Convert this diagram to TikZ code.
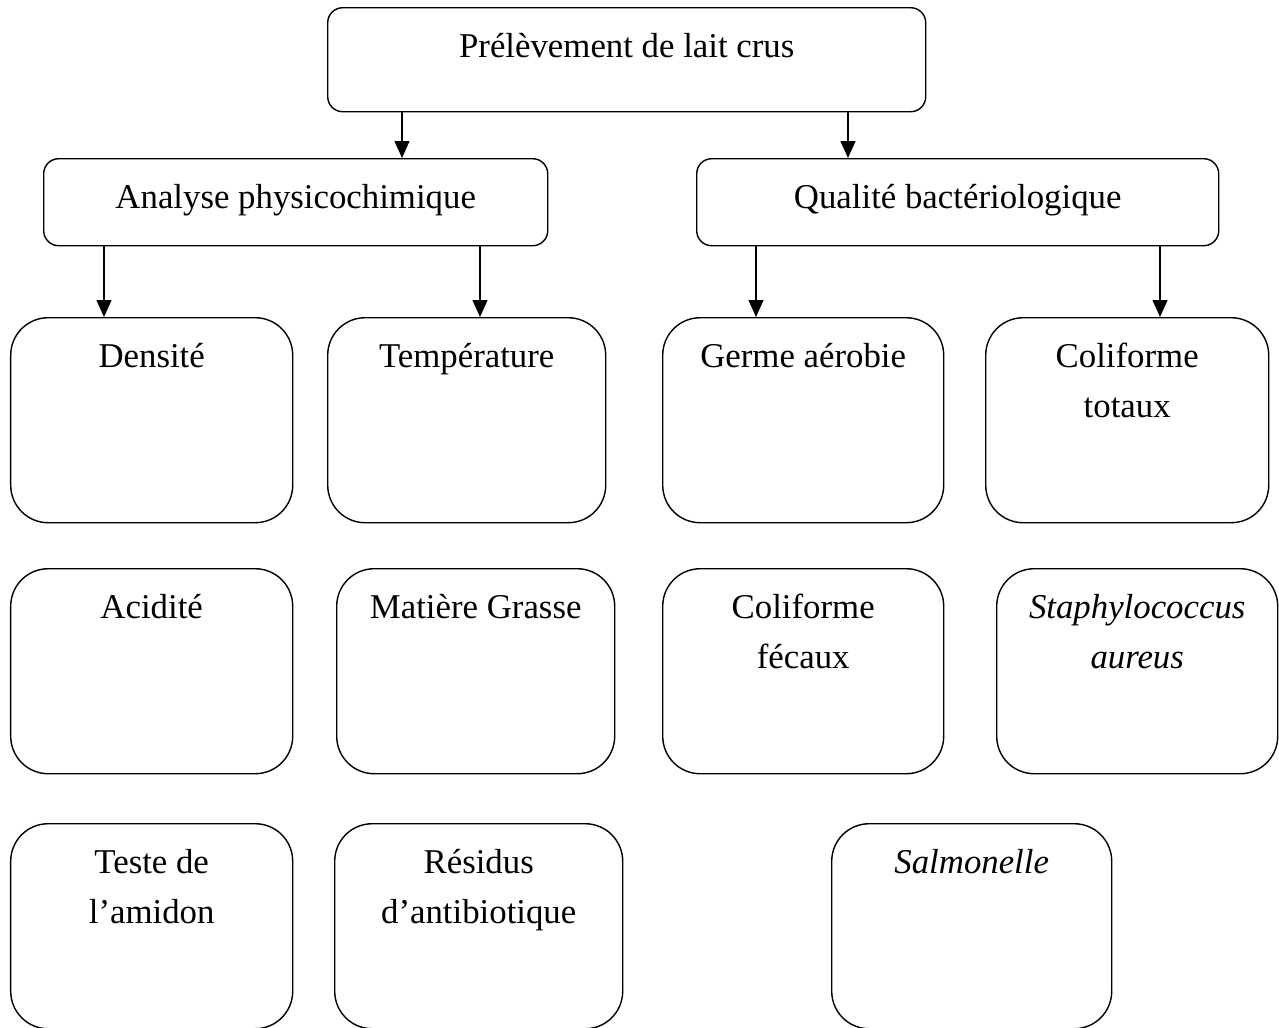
\documentclass[tikz,border=0pt]{standalone}
\usepackage{fontspec}
\setmainfont{Liberation Serif}
\usepackage{tikz}
\usetikzlibrary{arrows.meta,positioning,calc}

\begin{document}
\begin{tikzpicture}[
  box/.style={rectangle, draw=black, line width=0.8pt, rounded corners=0.3cm,
              anchor=north west, inner sep=0pt},
  tall/.style={box, rounded corners=0.75cm, minimum height=4.10cm},
  lbl/.style={font=\fontsize{19.8}{28.4}\selectfont, align=center,
              anchor=base, inner sep=0pt},
  arr/.style={-{Triangle[length=0.34cm,width=0.30cm]}, line width=0.8pt},
]
\useasboundingbox (0,0) rectangle (25.58,-20.54);

% Top level
\node[box, minimum width=11.96cm, minimum height=2.08cm] (top) at (6.54,-0.14) {};
\node[lbl] (topT) at ([yshift=-1.0cm]top.north) {Prélèvement de lait crus};

% Two branches
\node[box, minimum width=10.08cm, minimum height=1.74cm] (ana) at (0.86,-3.16) {};
\node[lbl] (anaT) at ([yshift=-1.0cm]ana.north) {Analyse physicochimique};
\node[box, minimum width=10.44cm, minimum height=1.74cm] (qua) at (13.92,-3.16) {};
\node[lbl] (quaT) at ([yshift=-1.0cm]qua.north) {Qualité bactériologique};

% Row 1 (two-line labels sit on their last baseline)
\node[tall, minimum width=5.64cm] (dens) at (0.20,-6.34) {};
\node[lbl] (densT) at ([yshift=-1.0cm]dens.north) {Densité};
\node[tall, minimum width=5.56cm] (temp) at (6.54,-6.34) {};
\node[lbl] (tempT) at ([yshift=-1.0cm]temp.north) {Température};
\node[tall, minimum width=5.62cm] (germ) at (13.24,-6.34) {};
\node[lbl] (germT) at ([yshift=-1.0cm]germ.north) {Germe aérobie};
\node[tall, minimum width=5.66cm] (colt) at (19.70,-6.34) {};
\node[lbl] (coltT) at ([yshift=-2.0cm]colt.north) {Coliforme\\totaux};

% Row 2
\node[tall, minimum width=5.64cm] (acid) at (0.20,-11.36) {};
\node[lbl] (acidT) at ([yshift=-1.0cm]acid.north) {Acidité};
\node[tall, minimum width=5.56cm] (mat) at (6.72,-11.36) {};
\node[lbl] (matT) at ([yshift=-1.0cm]mat.north) {Matière Grasse};
\node[tall, minimum width=5.62cm] (colf) at (13.24,-11.36) {};
\node[lbl] (colfT) at ([yshift=-2.0cm]colf.north) {Coliforme\\fécaux};
\node[tall, minimum width=5.62cm] (staph) at (19.92,-11.36) {};
\node[lbl] (staphT) at ([yshift=-2.0cm]staph.north) {\textit{Staphylococcus}\\\textit{aureus}};

% Row 3
\node[tall, minimum width=5.64cm] (teste) at (0.20,-16.46) {};
\node[lbl] (testeT) at ([yshift=-2.0cm]teste.north) {Teste de\\l’amidon};
\node[tall, minimum width=5.76cm] (resid) at (6.68,-16.46) {};
\node[lbl] (residT) at ([yshift=-2.0cm]resid.north) {Résidus\\d’antibiotique};
\node[tall, minimum width=5.60cm] (salm) at (16.62,-16.46) {};
\node[lbl] (salmT) at ([yshift=-1.0cm]salm.north) {\textit{Salmonelle}};

% Arrows
\draw[arr] ([xshift=1.50cm]top.south west) coordinate (t1) -- (t1 |- ana.north);
\draw[arr] ([xshift=10.42cm]top.south west) coordinate (t2) -- (t2 |- qua.north);
\draw[arr] ([xshift=1.22cm]ana.south west) coordinate (a1) -- (a1 |- dens.north);
\draw[arr] ([xshift=8.74cm]ana.south west) coordinate (a2) -- (a2 |- temp.north);
\draw[arr] ([xshift=1.20cm]qua.south west) coordinate (q1) -- (q1 |- germ.north);
\draw[arr] ([xshift=9.28cm]qua.south west) coordinate (q2) -- (q2 |- colt.north);
\end{tikzpicture}
\end{document}
